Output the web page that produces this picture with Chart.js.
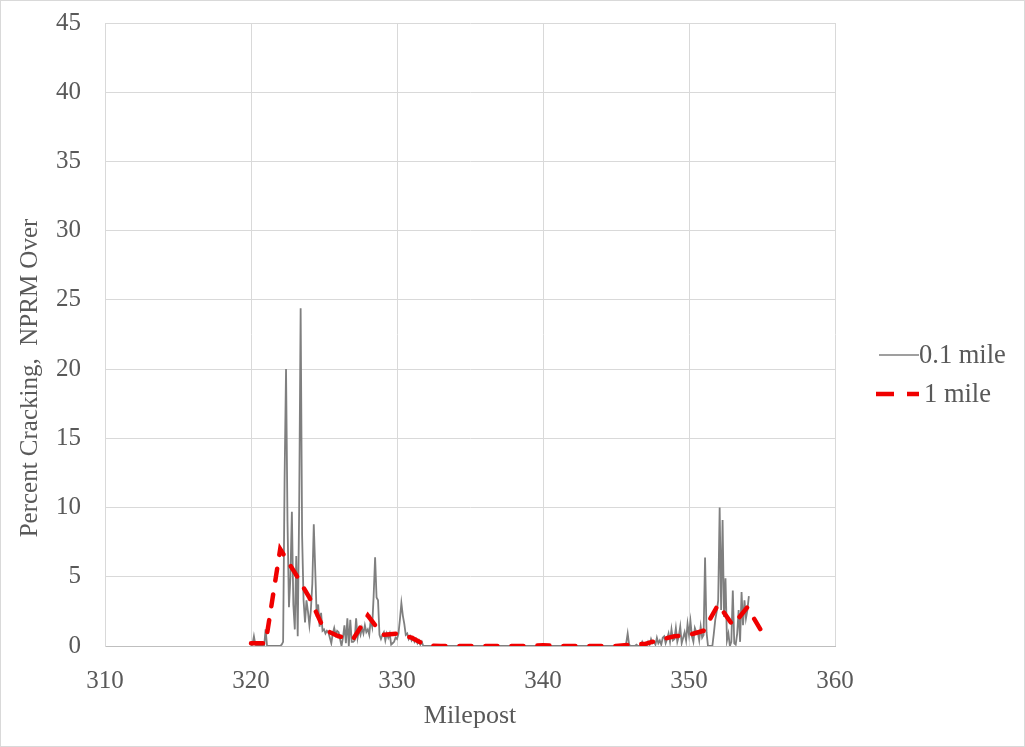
<!DOCTYPE html>
<html lang="en">
<head>
<meta charset="UTF-8">
<title>Percent Cracking, NPRM Over</title>
<script src="https://cdn.jsdelivr.net/npm/chart.js"></script>
<style>
  html, body { margin: 0; padding: 0; background: #fff; }
  .frame { width: 1023px; height: 745px; border: 1px solid #d9d9d9; }
  canvas { display: block; }
</style>
</head>
<body>
<div class="frame"><canvas id="chart" width="1023" height="745"></canvas></div>
<script>
// 0.1 mile readings, one row per mile, starting at milepost 320.0
const startMile = 320.0;
const stepMile = 0.1;
const crack01 = [
  0, 0.1, 0.7, 0.1, 0, 0, 0, 0, 0, 0,            // 320
  1.2, 0, 0, 0, 0, 0, 0, 0, 0, 0,                // 321
  0, 0.1, 0.3, 12, 20, 9, 2.8, 5, 9.7, 3,        // 322
  1.2, 6.5, 0.7, 10, 24.4, 8, 3.3, 1.7, 3.3, 2.5,// 323
  1.5, 2.6, 4.5, 8.8, 5.5, 2.1, 3.0, 1.4, 2.4, 1.1, // 324
  1.2, 0.9, 1.1, 1.0, 0.6, 0.2, 0.9, 1.3, 0.8, 1.1, // 325
  1.0, 0.5, 0, 0.6, 1.5, 0.2, 2.0, 0, 1.9, 0.3,  // 326
  0.3, 0.4, 2.0, 0.6, 1.2, 0.8, 1.3, 0.9, 1.5, 1.0, // 327
  1.2, 0.8, 1.9, 1.4, 3.6, 6.4, 3.5, 3.3, 0.8, 0.5, // 328
  0.8, 1.0, 0.4, 0.9, 0.6, 0.9, 0.1, 0.2, 0.3, 0.6, // 329
  0.5, 0.9, 1.9, 3.1, 2.2, 1.6, 0.8, 0.9, 0.5, 0.7, // 330
  0.4, 0.6, 0.3, 0.5, 0.2, 0.4, 0.1, 0.3, 0, 0,  // 331
  0, 0, 0, 0, 0, 0, 0, 0, 0, 0,                  // 332
  0, 0, 0, 0, 0, 0, 0, 0, 0, 0,                  // 333
  0, 0, 0, 0, 0, 0, 0, 0, 0, 0,                  // 334
  0, 0, 0, 0, 0, 0, 0, 0, 0, 0,                  // 335
  0, 0, 0, 0, 0, 0, 0, 0, 0, 0,                  // 336
  0, 0, 0, 0, 0, 0, 0, 0, 0, 0,                  // 337
  0, 0, 0, 0, 0, 0, 0, 0, 0, 0,                  // 338
  0, 0, 0, 0, 0, 0, 0, 0, 0, 0,                  // 339
  0, 0, 0, 0, 0, 0, 0, 0, 0, 0,                  // 340
  0, 0, 0, 0, 0, 0, 0, 0, 0, 0,                  // 341
  0, 0, 0, 0, 0, 0, 0, 0, 0, 0,                  // 342
  0, 0, 0, 0, 0, 0, 0, 0, 0, 0,                  // 343
  0, 0, 0, 0, 0, 0, 0, 0, 0, 0,                  // 344
  0, 0, 0, 0, 0, 0, 0, 0.2, 0.9, 0.1,            // 345
  0, 0, 0, 0, 0.1, 0, 0, 0, 0.3, 0.1,            // 346
  0.2, 0, 0.3, 0.1, 0.5, 0.2, 0.3, 0.1, 0.6, 0.2,// 347
  0.4, 0.1, 0.6, 0.7, 0.2, 0.5, 0.9, 0.3, 1.2, 0.4, // 348
  0.5, 1.3, 0.3, 0.7, 1.4, 0.2, 0.6, 1.0, 0.4, 1.6, // 349
  0.8, 1.8, 0.7, 0.3, 1.3, 1.0, 1.0, 0.4, 1.4, 0.6, // 350
  0.8, 6.4, 1.0, 0, 0, 0, 0, 0.9, 1.9, 2.5,      // 351
  3.3, 10.0, 2.6, 9.1, 2.1, 4.9, 0.4, 0.9, 0, 0.3, // 352
  4.0, 0.2, 0.1, 0.9, 2.6, 0.3, 3.9, 1.5, 3.3, 2.0, // 353
  2.6, 3.6                                       // 354
];

// 1 mile averages
const mileposts1 = [320, 321, 322, 323, 324, 325, 326, 327, 328, 329, 330, 331, 332, 333, 334, 335, 336, 337,
                    338, 339, 340, 341, 342, 343, 344, 345, 346, 347, 348, 349, 350, 351, 352, 353, 354, 355];
const crack1 = [0.2, 0.2, 7.0, 5.3, 3.5, 1.2, 0.7, 0.5, 2.2, 0.8, 0.9, 0.6, 0.05, 0, 0, 0, 0, 0,
                0, 0, 0.05, 0, 0, 0, 0, 0, 0.1, 0.15, 0.45, 0.7, 0.8, 1.1, 3.0, 1.5, 2.8, 1.0];

const seriesNames = ['0.1 mile', '1 mile'];
const xTicks = [310, 320, 330, 340, 350, 360];
const yTitle = 'Percent Cracking,  NPRM Over';

const textColor = '#595959';
const serif = '"Liberation Serif", "Times New Roman", serif';

const points01 = crack01.map((v, i) => ({ x: +(startMile + i * stepMile).toFixed(1), y: v }));
const points1 = mileposts1.map((m, i) => ({ x: m, y: crack1[i] }));

// legend on the right and the y title (sits a bit low, like the original)
const sideText = {
  id: 'sideText',
  afterDraw(chart) {
    const ctx = chart.ctx;
    const area = chart.chartArea;
    const ds = chart.data.datasets;
    const x0 = area.right + 43;
    const y0 = area.top + 332;
    ctx.save();
    ctx.font = '26.5px ' + serif;
    ctx.fillStyle = textColor;
    ctx.textBaseline = 'middle';
    ds.forEach((d, i) => {
      const y = y0 + i * 39;
      ctx.beginPath();
      ctx.strokeStyle = d.borderColor;
      ctx.lineWidth = i === 0 ? 1.6 : 4.5;
      ctx.lineCap = 'butt';
      ctx.setLineDash(i === 0 ? [] : [18, 13]);
      ctx.moveTo(i === 0 ? x0 + 1 : x0 - 2, y);
      ctx.lineTo(x0 + 41, y);
      ctx.stroke();
      ctx.setLineDash([]);
      ctx.fillText(d.label, x0 + (i === 0 ? 41 : 46), y + 1);
    });

    ctx.font = '25px ' + serif;
    ctx.translate(29, area.top + 355);
    ctx.rotate(-Math.PI / 2);
    ctx.textAlign = 'center';
    ctx.fillText(yTitle, 0, 0);
    ctx.restore();
  }
};

new Chart(document.getElementById('chart'), {
  type: 'line',
  data: {
    datasets: [{
      label: seriesNames[0],
      data: points01,
      borderColor: '#7f7f7f',
      borderWidth: 1.8,
      pointRadius: 0,
      tension: 0,
      order: 2
    }, {
      label: seriesNames[1],
      data: points1,
      borderColor: '#f00000',
      borderWidth: 4.5,
      borderDash: [12, 14],
      borderCapStyle: 'round',
      pointRadius: 0,
      tension: 0,
      order: 1
    }]
  },
  options: {
    responsive: false,
    animation: false,
    devicePixelRatio: 1,
    layout: { padding: { top: 22, right: 189, left: 0, bottom: 0 } },
    plugins: { legend: { display: false }, tooltip: { enabled: false } },
    scales: {
      x: {
        type: 'linear',
        min: 310, max: 360,
        afterBuildTicks: s => { s.ticks = xTicks.map(v => ({ value: v })); },
        afterFit: s => { s.height = 100; },
        grid: { color: '#d9d9d9', drawTicks: false },
        border: { color: '#bfbfbf' },
        ticks: { color: textColor, font: { family: serif, size: 25 }, padding: 20 },
        title: { display: true, text: 'Milepost', color: textColor, font: { family: serif, size: 26 }, padding: { top: 0, bottom: 14 } }
      },
      y: {
        min: 0, max: 45,
        ticks: { stepSize: 5, color: textColor, font: { family: serif, size: 25 }, padding: 24 },
        afterFit: s => { s.width = 104; s.paddingTop = 0; s.paddingBottom = 0; },
        grid: { color: '#d9d9d9', drawTicks: false },
        border: { color: '#d9d9d9' },
        title: { display: false }
      }
    }
  },
  plugins: [sideText]
});
</script>
</body>
</html>
